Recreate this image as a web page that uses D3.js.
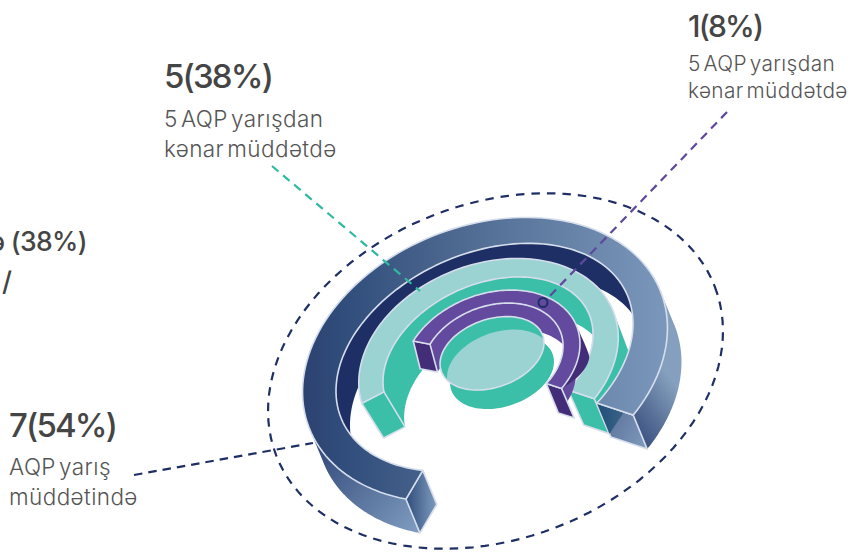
<!DOCTYPE html>
<html><head><meta charset="utf-8">
<script src="https://cdn.jsdelivr.net/npm/d3@7/dist/d3.min.js"></script>
<style>html,body{margin:0;padding:0;background:#fff}svg{display:block}
.h{font-family:Inter,sans-serif;font-weight:500;fill:#454545;letter-spacing:-1.8px}
.s{font-family:Inter,sans-serif;font-weight:300;fill:#555;letter-spacing:.4px;word-spacing:-3.5px}</style>
</head><body><svg id="c" width="859" height="552"></svg>
<script>
// ---- data ----
const values = [7, 5, 1];
const percents = [54, 38, 8];
const subLabels = [["AQP yarış", "müddətində"], ["5 AQP yarışdan", "kənar müddətdə"], ["5 AQP yarışdan", "kənar müddətdə"]];
const clippedHeading = "ə (38%)";
const clippedSecond = "/";

// ---- layout of the tilted rings ----
const ringBand = d3.scaleOrdinal().domain(values).range([
  {o:{c:[485,360],a:188.5,b:134.5,r:-21,t0:131,t1:411}, i:{c:[484.5,357.3],a:155.8,b:103.8,r:-23.9,t0:131,t1:417.3},
   d:[14,34], k:1, near:[[131,180],[360,411]]},
  {o:{c:[488.5,360],a:134,b:95.8,r:-21,t0:183,t1:410.7}, i:{c:[488,358],a:110.2,b:73.8,r:-24.1,t0:189,t1:417},
   d:[18,36], k:.97, near:[[360,410.7]]},
  {o:{c:[491.3,359.4],a:91.6,b:65.4,r:-21,t0:223.7,t1:413}, i:{c:[492.5,358.2],a:72.9,b:52,r:-21,t0:223,t1:415.7},
   d:[10,28.5], k:1.04, near:[[360,413]], taper:[10,20]}
]);
const ringFill = d3.scaleOrdinal().domain(values).range([
  {top:"url(#g1)", inner:"#1e2f66", outerFills:["url(#g1a)","url(#g1b)"], cap0:"url(#g1c)", cap1:"url(#g1d)"},
  {top:"#9ad3d1", inner:"#3bbfa8", outerFills:["#3bbfa8"], cap0:"#3bbfa8", cap1:"#3bbfa8"},
  {top:"#644a9e", inner:"#644a9e", outerFills:["#432c78"], cap0:"#432c78", cap1:"#432c78"}
]);
const edge = "#d6deec";

const svg = d3.select("#c");
const defs = svg.append("defs");
function grad(id, x1, y1, x2, y2, stops){
  const g = defs.append("linearGradient").attr("id", id).attr("gradientUnits","userSpaceOnUse")
    .attr("x1",x1).attr("y1",y1).attr("x2",x2).attr("y2",y2);
  stops.forEach(s => g.append("stop").attr("offset",s[0]).attr("stop-color",s[1]));
}
grad("g1",303,0,668,0,[[0,"#2d4270"],[.12,"#314e7c"],[.5,"#557096"],[1,"#7b98bc"]]);
grad("g1a",317,447,416,535,[[0,"#33497a"],[.45,"#56709a"],[1,"#7f9cc0"]]);
grad("g1b",630,440,686,400,[[0,"#33477a"],[.5,"#5a7299"],[1,"#85a0be"]]);
grad("g1c",404,0,436,0,[[0,"#2b4878"],[1,"#7d9abc"]]);
grad("g1d",600,420,647,445,[[0,"#5a6e98"],[1,"#7e9abc"]]);
grad("g1e",598,420,625,420,[[0,"#1f4f78"],[1,"#3f6488"]]);

const rad = Math.PI / 180;
const xy = d3.line().curve(d3.curveLinear);
function ell(e, t){
  const R = e.r * rad;
  const u = e.a * Math.cos(t * rad), v = e.b * Math.sin(t * rad);
  return [e.c[0] + u * Math.cos(R) - v * Math.sin(R), e.c[1] + u * Math.sin(R) + v * Math.cos(R)];
}
function arc(e, a, b){
  const ang = d3.scaleLinear().domain([0, 120]).range([a, b]);
  return d3.range(121).map(i => ell(e, ang(i)));
}
const lower = (g, e) => ({c:[e.c[0] + g.d[0], e.c[1] + g.d[1]], a:e.a * g.k, b:e.b * g.k, r:e.r});
function ribbon(g, e, a, b){
  return xy(arc(e, a, b).concat(arc(lower(g, e), b, a))) + "Z";
}
function taperRibbon(e, a, b, d){
  const ang = d3.scaleLinear().domain([0, 60]).range([a, b]);
  const low = d3.range(61).map(i => {
    const p = ell(e, ang(i)), f = Math.sin(Math.min(1, i / 12) * Math.PI / 2) * (1 - i / 60) * 1.2;
    return [p[0] + d[0] * f, p[1] + d[1] * f];
  }).reverse();
  return xy(arc(e, a, b).concat(low)) + "Z";
}
function topFace(g){
  return xy(arc(g.o, g.o.t0, g.o.t1).concat(arc(g.i, g.i.t1, g.i.t0))) + "Z";
}
function capCorners(g, k){
  return [ell(g.o, g.o[k]), ell(g.i, g.i[k]), ell(lower(g, g.i), g.i[k]), ell(lower(g, g.o), g.o[k])];
}
const put = (d, fill, stroke) => svg.append("path").attr("d", d).attr("fill", fill)
  .attr("stroke", stroke || "none").attr("stroke-width", stroke ? 1.6 : 0).attr("stroke-linejoin","round");

function drawShell(v){
  const g = ringBand(v), f = ringFill(v);
  g.near.forEach((n, i) => put(g.taper ? taperRibbon(g.o, n[0], n[1], g.taper) : ribbon(g, g.o, n[0], n[1]), f.outerFills[i] || f.outerFills[0]));
  put(xy(capCorners(g, "t0")) + "Z", f.cap0, edge);
  const c1 = capCorners(g, "t1");
  put(xy(c1) + "Z", f.cap1, edge);
  if (v === values[0]) {
    const mid = d3.interpolateArray(c1[1], c1[0])(.75);
    svg.append("path").attr("d", xy([c1[1], mid, d3.interpolateArray(c1[2], c1[1])(.1)]) + "Z").attr("fill","url(#g1e)");
    put(xy(c1.slice(0,2)), "none", edge);
  }
  put(topFace(g), f.top, edge);
}
const drawInnerWall = v => { const g = ringBand(v); put(ribbon(g, g.i, g.i.t0, g.i.t1), ringFill(v).inner); };

// dashed frame
const frame = {c:[495.5,371],a:235,b:167.7,r:-21};
svg.append("path").attr("d", xy(arc(frame, 0, 360)) + "Z").attr("fill","none")
  .attr("stroke","#1e2f66").attr("stroke-width",2.2).attr("stroke-dasharray","8.5 7");

// far wall of the outermost ring, then inner rings, bowl, outermost shell
drawInnerWall(values[0]);
drawInnerWall(values[1]); drawShell(values[1]);
drawInnerWall(values[2]); drawShell(values[2]);

// centre bowl
const rim = {c:[492,353.3],a:53.8,b:34,r:-19.5};
const full = e => xy(arc(e, 0, 360)) + "Z";
defs.append("clipPath").attr("id","rim").append("path").attr("d", full(rim));
put(ribbon({d:[10,19],k:1}, rim, 0, 360), "#3bbfa8");
put(full(rim), "#3bbfa8");
svg.append("path").attr("d", full({...rim, c:[rim.c[0]+7, rim.c[1]+13]})).attr("fill","#9ad3d1").attr("clip-path","url(#rim)");
put(full(rim), "none", edge);

drawShell(values[0]);

// leaders
const leader = (p, col) => svg.append("path").attr("d", xy(p)).attr("fill","none").attr("stroke",col)
  .attr("stroke-width",2.2).attr("stroke-dasharray","8.5 6");
leader([[134,475],[313,443]], "#1e2f66");
leader([[272,166],[420,291]], "#2fb9a0");
leader([[727,112],[546,300]], "#5f479c");
svg.append("circle").attr("cx",543).attr("cy",302.5).attr("r",4.5).attr("fill","#644a9e").attr("stroke","#1e2f66").attr("stroke-width",2);

// labels
const labelPos = d3.scaleOrdinal().domain([0,1,2]).range([[9,437,475,505,33,22.5],[164,88,127,157,33,22.5],[688,37,71,98,30,20.8]]);
values.forEach((v, i) => {
  const p = labelPos(i);
  svg.append("text").attr("class","h").attr("x",p[0]).attr("y",p[1]).attr("font-size",p[4]).text(`${v}(${percents[i]}%)`);
  subLabels[i].forEach((l, j) => svg.append("text").attr("class","s").attr("x",p[0]).attr("y",p[2+j]).attr("font-size",p[5]).text(l));
});
svg.append("text").attr("class","h").attr("x",87).attr("y",251).attr("text-anchor","end").attr("font-size",26.5).style("letter-spacing","-.6px").text(clippedHeading);
svg.append("text").attr("class","h").attr("x",2).attr("y",291).attr("font-size",27).text(clippedSecond);
</script></body></html>
